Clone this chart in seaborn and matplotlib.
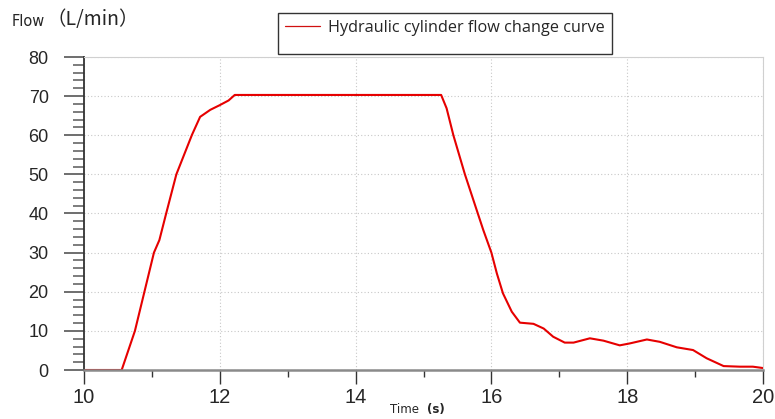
import matplotlib
matplotlib.use("Agg")
import matplotlib.pyplot as plt
import seaborn as sns
import pandas as pd
from matplotlib.lines import Line2D
from matplotlib.ticker import MultipleLocator

time_s = [10.0, 10.555, 10.75, 10.89, 11.03, 11.11, 11.21, 11.36, 11.59, 11.71,
          11.86, 12.0, 12.13, 12.22, 15.26, 15.34, 15.44, 15.61, 15.80, 15.88,
          16.0, 16.08, 16.17, 16.30, 16.42, 16.62, 16.77, 16.91, 17.08, 17.21,
          17.45, 17.65, 17.89, 18.04, 18.29, 18.48, 18.73, 18.97, 19.17, 19.42,
          19.66, 19.85, 20.0]
flow = [0.0, 0.0, 10.0, 20.0, 30.0, 33.2, 40.0, 50.0, 60.1, 64.7,
        66.5, 67.7, 68.9, 70.3, 70.3, 66.9, 60.0, 50.0, 40.0, 35.8,
        30.0, 24.7, 19.6, 14.9, 12.1, 11.8, 10.6, 8.5, 7.0, 7.0,
        8.1, 7.5, 6.3, 6.8, 7.8, 7.2, 5.8, 5.1, 3.0, 1.0,
        0.85, 0.85, 0.5]
series_label = "Hydraulic cylinder flow change curve"
x_ticks = [10, 12, 14, 16, 18, 20]
y_ticks = [0, 10, 20, 30, 40, 50, 60, 70, 80]

df = pd.DataFrame({"Time": time_s, "Flow": flow})

sns.set_style("white")
plt.rcParams['font.family'] = ['Liberation Sans', 'DejaVu Sans']

fig = plt.figure(figsize=(7.75, 4.19), dpi=100)
ax = fig.add_axes([84/775, 1-370/419, (763-84)/775, (370-57)/419])

sns.lineplot(data=df, x="Time", y="Flow", ax=ax, color="#e60000", linewidth=1.5, legend=False)

ax.set_xlim(10, 20)
ax.set_ylim(0, 80)
ax.set_xticks(x_ticks)
ax.set_yticks(y_ticks)
ax.xaxis.set_minor_locator(MultipleLocator(1))
ax.yaxis.set_minor_locator(MultipleLocator(2))

ax.grid(True, which='major', linestyle=(0, (1, 2)), color="#c8c8c8", linewidth=0.8)
ax.set_axisbelow(True)

for s in ['top', 'right']:
    ax.spines[s].set_color("#d0d0d0")
    ax.spines[s].set_linewidth(0.8)
ax.spines['left'].set_color("#333333")
ax.spines['left'].set_linewidth(1.3)
ax.spines['bottom'].set_color("#8a8a8a")
ax.spines['bottom'].set_linewidth(1.8)

ax.tick_params(axis='y', which='major', direction='out', length=14.4, width=1.2,
               color="#555555", labelsize=13, pad=11, left=True)
ax.tick_params(axis='y', which='minor', direction='out', length=8, width=1.2,
               color="#666666", left=True)
ax.tick_params(axis='x', which='major', direction='out', length=10, width=1.0,
               color="#333333", labelsize=14.5, pad=3, bottom=True)
ax.tick_params(axis='x', which='minor', direction='out', length=5, width=1.0,
               color="#333333", bottom=True)

ax.set_xlabel("")
ax.set_ylabel("")

# y-axis title at top-left
fig.text(12/775, 1-21/419, "Flow", fontsize=10.5, ha='left', va='center',
         family=['DejaVu Sans'])
fig.text(46/775, 1-20/419, "（L/min）", fontsize=14, ha='left', va='center',
         family=['Noto Sans CJK SC', 'DejaVu Sans'])

# x-axis title
fig.text(390/775, 1-409/419, "Time", fontsize=8.5, ha='left', va='center',
         family=['DejaVu Sans'])
fig.text(427/775, 1-409/419, "(s)", fontsize=8.5, ha='left', va='center', weight='bold',
         family=['DejaVu Sans'])

# legend
handles = [Line2D([], [], color="#d01010", linewidth=0.9),
           Line2D([], [], color="none", linewidth=0)]
leg = fig.legend(handles, [series_label, " "], loc='upper left',
                 bbox_to_anchor=(278/775, 1-13/419), bbox_transform=fig.transFigure,
                 borderaxespad=0, frameon=True, fancybox=False, edgecolor="#333333",
                 framealpha=1, handlelength=2.2, handletextpad=0.5,
                 borderpad=0.4, labelspacing=0.05, handleheight=0.5,
                 prop={'family': ['Open Sans', 'DejaVu Sans'], 'size': 11.7})
leg.get_texts()[1].set_fontsize(4)
leg.get_frame().set_linewidth(1.0)

fig.savefig("out.png", dpi=100)
